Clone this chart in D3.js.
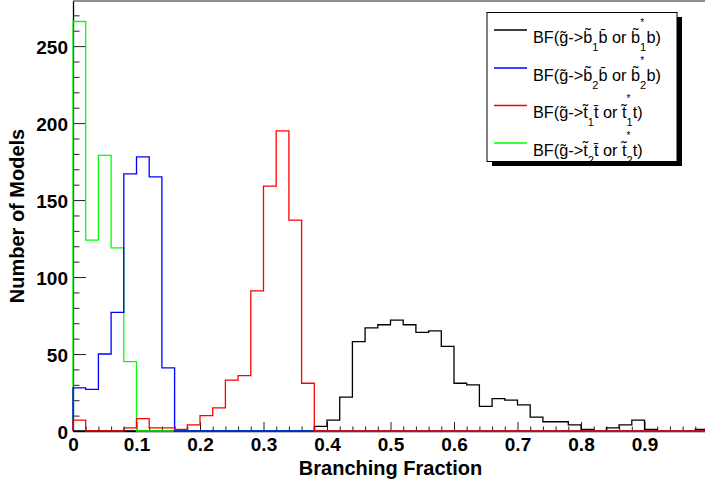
<!DOCTYPE html>
<html>
<head>
<meta charset="utf-8">
<script src="https://cdn.jsdelivr.net/npm/d3@7"></script>
<style>
  body { margin: 0; background: #fff; }
  svg { display: block; font-family: "Liberation Sans", Arial, sans-serif; }
</style>
</head>
<body>
<div id="paper"></div>
<script>

// histogram contents, 50 bins of width 0.02 from 0 to 1.

const binWidth = 0.02
const binCount = 50

const bf_b1 = [0,0,0,0,0,0,0,0,0,0, 0,0,0,0,0,0,0,0,0,3,
               7,22,58,67,69,72,69,64,65,55, 31,30,16,21,20,17,9,6,6,4,
               1,0,2,4,7,1,0,0,0,1]
const bf_b2 = [28,27,50,77,167,178,165,41,0,0]
const bf_t1 = [7,0,0,0,2,8,2,2,1,4, 10,15,33,36,91,159,195,137,31,0]
const bf_t2 = [266,124,179,119,45,0]

const xMajor = [0,0.1,0.2,0.3,0.4,0.5,0.6,0.7,0.8,0.9]
const yMajor = [0,50,100,150,200,250]

const legendRows = [
    { q: "b", idx: "1", color: "#000000" },
    { q: "b", idx: "2", color: "#0000ff" },
    { q: "t", idx: "1", color: "#ff0000" },
    { q: "t", idx: "2", color: "#00ff00" }
]

// canvas.

const svg = d3.select("#paper")
    .append("svg")
    .attr("id", "canvas")
    .attr("width", 705)
    .attr("height", 487)

const x = d3.scaleLinear().domain([0, 1]).range([73, 708])
const y = d3.scaleLinear().domain([0, 279.3]).range([431, 1])

// frame top line.

svg.append("line")
    .attr("x1", x(0)).attr("x2", 705)
    .attr("y1", y(279.3)).attr("y2", y(279.3))
    .attr("stroke", "#222").attr("stroke-width", 1.2)

// axes: minor ticks first, then majors with labels.

const xMinor = d3.range(0, 1.0001, binWidth).filter(v => Math.abs(v*10 - Math.round(v*10)) > 1e-6)
const yMinor = d3.range(0, 271, 10).filter(v => v % 50 != 0)

svg.append("g")
    .attr("transform", "translate(0,431)")
    .call(d3.axisBottom(x).tickValues(xMinor).tickSize(-4.5).tickSizeOuter(0).tickFormat(""))
    .call(g => g.select(".domain").remove())

svg.append("g")
    .attr("class", "xAxis")
    .attr("transform", "translate(0,431)")
    .call(d3.axisBottom(x).tickValues(xMajor).tickSize(-9).tickSizeOuter(0).tickPadding(7)
        .tickFormat(d => d == 0 ? "0" : d3.format(".1f")(d)))

svg.append("g")
    .attr("transform", "translate(73,0)")
    .call(d3.axisLeft(y).tickValues(yMinor).tickSize(-6.5).tickSizeOuter(0).tickFormat(""))
    .call(g => g.select(".domain").remove())

svg.append("g")
    .attr("class", "yAxis")
    .attr("transform", "translate(73,0)")
    .call(d3.axisLeft(y).tickValues(yMajor).tickSize(-13).tickSizeOuter(0).tickPadding(5))

svg.selectAll(".xAxis .domain, .yAxis .domain").attr("stroke", "#000").attr("stroke-width", 1.3)
svg.selectAll(".tick line").attr("stroke", "#222")
svg.selectAll(".xAxis text, .yAxis text")
    .attr("font-family", "'Liberation Sans', Arial, sans-serif")
    .attr("font-size", 19)
    .attr("font-weight", "bold")
    .attr("fill", "#000")
svg.selectAll(".yAxis text").attr("dy", "0.40em")

// axis titles.

svg.append("text")
    .attr("x", (73 + 708) / 2)
    .attr("y", 475)
    .attr("text-anchor", "middle")
    .attr("font-size", 20)
    .attr("font-weight", "bold")
    .text("Branching Fraction")

svg.append("text")
    .attr("transform", "translate(24,216) rotate(-90)")
    .attr("text-anchor", "middle")
    .attr("font-size", 20)
    .attr("font-weight", "bold")
    .text("Number of Models")

// histogram outlines.

function stepPoints(values) {
    let pts = [[0, 0]]
    for (let i = 0; i < binCount; i++) {
        pts.push([i * binWidth, values[i] || 0])
    }
    pts.push([1, values[binCount - 1] || 0])
    pts.push([1, 0])
    return pts
}

const stepLine = d3.line()
    .x(d => x(d[0]))
    .y(d => y(d[1]))
    .curve(d3.curveStepAfter)

const series = [
    { values: bf_b1, color: "#000000" },
    { values: bf_t2, color: "#00ff00" },
    { values: bf_b2, color: "#0000ff" },
    { values: bf_t1, color: "#ff0000" }
]

svg.append("clipPath").attr("id", "plotClip")
    .append("rect").attr("x", 72).attr("y", 0).attr("width", 640).attr("height", 433)

svg.selectAll(".hist")
    .data(series)
    .join("path")
    .attr("class", "hist")
    .attr("clip-path", "url(#plotClip)")
    .attr("d", d => stepLine(stepPoints(d.values)))
    .attr("fill", "none")
    .attr("stroke", d => d.color)
    .attr("stroke-width", 1.3)

// legend box with shadow.

svg.append("rect")
    .attr("x", 492).attr("y", 17).attr("width", 190).attr("height", 149)
    .attr("fill", "#000")

svg.append("rect")
    .attr("x", 487).attr("y", 12.5).attr("width", 190).attr("height", 149)
    .attr("fill", "#fff").attr("stroke", "#000").attr("stroke-width", 1)

function legendLabel(row, baseY) {
    let t = svg.append("text")
        .attr("x", 533)
        .attr("y", baseY)
        .attr("font-size", 16.3)
    t.append("tspan").text("BF(g\u0303->" + row.q + "\u0303")
    t.append("tspan").attr("font-size", 11).attr("dy", 8).text(row.idx)
    t.append("tspan").attr("dy", -8).text(row.q + "\u0304 or " + row.q + "\u0303")
    t.append("tspan").attr("font-size", 11).attr("dy", 8).text(row.idx)
    t.append("tspan").attr("font-size", 10).attr("dx", -6).attr("dy", -24.5).text("*")
    t.append("tspan").attr("dx", 2.3).attr("dy", 16.5).text(row.q + ")")
}

const rowY = [30, 68, 105.5, 143]

legendRows.forEach((row, i) => {
    svg.append("line")
        .attr("x1", 494).attr("x2", 527)
        .attr("y1", rowY[i]).attr("y2", rowY[i])
        .attr("stroke", row.color)
        .attr("stroke-width", 1.3)
    legendLabel(row, rowY[i] + 12.5)
})

</script>
</body>
</html>
